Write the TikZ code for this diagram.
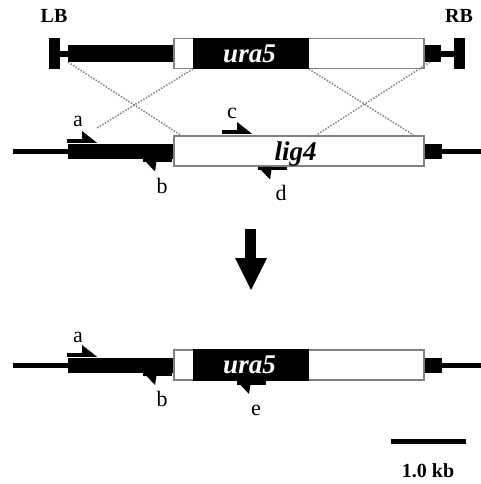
\documentclass[tikz,border=0pt]{standalone}
\usepackage{fontspec}
\setmainfont{Liberation Serif}
\definecolor{boxgray}{RGB}{128,128,128}
\tikzset{
  box/.style={draw=boxgray, line width=1.8pt, fill=white},
  homology/.style={draw=boxgray, line width=1.5pt, dash pattern=on 1.5pt off 1.5pt},
  lbl/.style={anchor=base, inner sep=0pt, font=\fontsize{22}{24}\selectfont},
  border/.style={anchor=base, inner sep=0pt, font=\fontsize{20}{22}\selectfont\bfseries},
  genename/.style={anchor=base, inner sep=0pt, font=\fontsize{27}{29}\selectfont\bfseries\itshape},
  fwdprimer/.pic={
    \fill (0,-1.75) rectangle (17,1.75);
    \fill (15,-10) -- (15,1.75) -- (30,1.75) -- cycle;
  },
  revprimer/.pic={
    \fill (0,-1.75) rectangle (29,1.75);
    \fill (0,-1.75) -- (14,-1.75) -- (12,11) -- cycle;
  }
}
\begin{document}
\begin{tikzpicture}[x=1pt,y=-1pt]
\useasboundingbox (0,0) rectangle (481,484);

% ---- T-DNA construct: LB - flank - ura5 - lig4 3' - RB ----
\fill (49,38) rectangle (60,69);
\fill (60,51) rectangle (68,57);
\fill (68,45) rectangle (174,62);
\draw[box] (174,38.5) rectangle (424,68.5);
\fill (193,37.6) rectangle (309,69.4);
\fill (424.9,45) rectangle (441,62);
\fill (441,51) rectangle (454,57);
\fill (454,38) rectangle (465,69);
\node[border] (lb) at (54,23) {LB};
\node[border] (rb) at (459,23) {RB};
\node[genename, text=white] (ura5top) at (249.5,63) {ura5};

% ---- wild-type lig4 locus ----
\fill (13,148.5) rectangle (68,153.5);
\fill (68,144) rectangle (174,159);
\draw[box] (174,136) rectangle (424,166);
\fill (424.9,144) rectangle (442,158.5);
\fill (442,148.5) rectangle (481,153.5);
\node[genename] (lig4) at (295.5,160) {lig4};

% ---- crossover lines between homologous regions ----
\coordinate (h1) at (68,62);
\coordinate (h2) at (182,136);
\coordinate (h3) at (193,69);
\coordinate (h4) at (97,128);
\coordinate (h5) at (309,69);
\coordinate (h6) at (415,136);
\coordinate (h7) at (430,62);
\coordinate (h8) at (315,136);
\draw[homology] (h1) -- (h2);
\draw[homology] (h3) -- (h4);
\draw[homology] (h5) -- (h6);
\draw[homology] (h7) -- (h8);

% primers on the wild-type locus
\pic at (67,141) {fwdprimer};
\pic at (222,132) {fwdprimer};
\pic at (143,160.5) {revprimer};
\pic at (258,168.5) {revprimer};
\node[lbl] (pa) at (78,127) {a};
\node[lbl] (pc) at (232,118) {c};
\node[lbl] (pb) at (162,193) {b};
\node[lbl] (pd) at (281,200) {d};

% ---- replacement arrow ----
\fill (245,229) rectangle (256,258);
\fill (235,258) -- (267,258) -- (251,290) -- cycle;

% ---- disrupted locus ----
\fill (13,362.5) rectangle (68,367.5);
\fill (68,358) rectangle (174,373);
\draw[box] (174,350) rectangle (424,380);
\fill (193,349.1) rectangle (309,380.9);
\fill (424.9,358) rectangle (442,372.5);
\fill (442,362.5) rectangle (481,367.5);
\node[genename, text=white] (ura5bot) at (249.5,373) {ura5};

\pic at (67,355) {fwdprimer};
\pic at (143,374) {revprimer};
\pic at (237,383) {revprimer};
\node[lbl] (pa2) at (78,342) {a};
\node[lbl] (pb2) at (162,406) {b};
\node[lbl] (pe) at (256,415) {e};

% ---- scale bar ----
\fill (391,438.5) rectangle (466,443.5);
\node[border] (kb) at (428,477) {1.0 kb};
\end{tikzpicture}
\end{document}
